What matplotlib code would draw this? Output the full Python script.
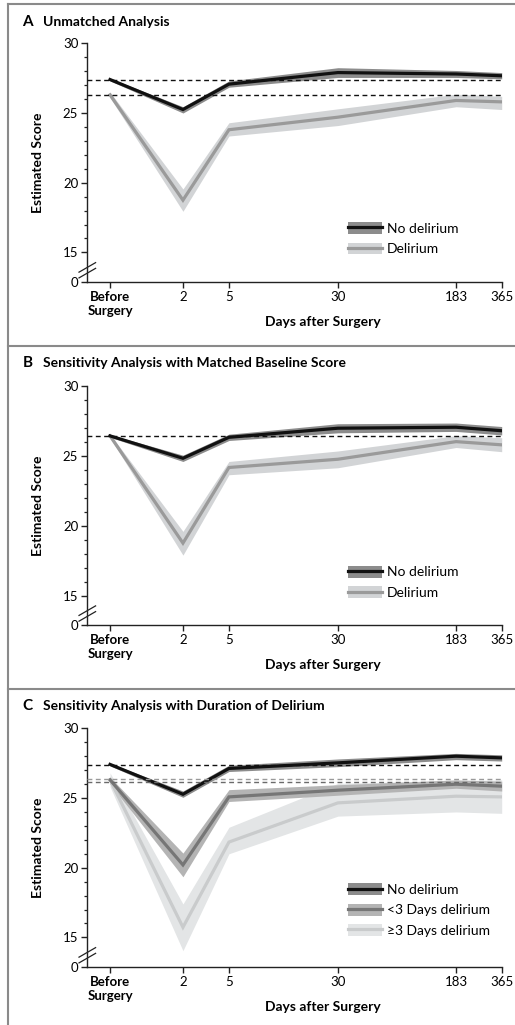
import numpy as np
import matplotlib
matplotlib.use("Agg")
import matplotlib.pyplot as plt
from matplotlib.lines import Line2D
from matplotlib.patches import Patch

plt.rcParams['font.family'] = ['Lato', 'DejaVu Sans']

# ---------------- data ----------------
days = [0, 2, 5, 30, 183, 365]
xtick_labels = ['Before\nSurgery', '2', '5', '30', '183', '365']

A_no = [27.4, 25.25, 27.07, 27.9, 27.8, 27.67]
A_no_lo = [27.3, 25.0, 26.85, 27.55, 27.55, 27.45]
A_no_hi = [27.5, 25.45, 27.3, 28.25, 28.05, 27.9]
A_del = [26.3, 18.75, 23.8, 24.7, 25.9, 25.8]
A_del_lo = [26.1, 17.95, 23.35, 24.1, 25.45, 25.25]
A_del_hi = [26.5, 19.55, 24.3, 25.3, 26.35, 26.2]
A_base = [27.4, 26.3]

B_no = [26.43, 24.83, 26.33, 26.98, 27.05, 26.8]
B_no_lo = [26.33, 24.6, 26.1, 26.65, 26.75, 26.5]
B_no_hi = [26.53, 25.05, 26.55, 27.3, 27.35, 27.1]
B_del = [26.43, 18.76, 24.17, 24.76, 26.02, 25.79]
B_del_lo = [26.3, 17.9, 23.65, 24.15, 25.6, 25.3]
B_del_hi = [26.55, 19.6, 24.6, 25.35, 26.45, 26.3]
B_base = [26.43]

C_no = [27.41, 25.27, 27.12, 27.52, 28.0, 27.88]
C_no_lo = [27.3, 25.05, 26.9, 27.25, 27.75, 27.65]
C_no_hi = [27.5, 25.5, 27.35, 27.8, 28.2, 28.1]
C_short = [26.3, 20.2, 25.08, 25.56, 25.99, 25.85]
C_short_lo = [26.0, 19.35, 24.75, 25.2, 25.7, 25.5]
C_short_hi = [26.5, 21.05, 25.6, 25.95, 26.3, 26.2]
C_long = [26.3, 15.73, 21.84, 24.65, 25.13, 25.08]
C_long_lo = [25.8, 14.05, 21.0, 23.7, 24.0, 23.9]
C_long_hi = [26.8, 17.4, 22.9, 26.05, 26.25, 26.3]
C_base = [27.4, 26.37, 26.15]

ytick_vals = [12.9, 15, 20, 25, 30]
ytick_labels = ['0', '15', '20', '25', '30']

# ---------------- style ----------------
BLACK = '#111111'
DARK_BAND = '#8c8c8c'
DEL_LINE = '#9a9a9a'
DEL_BAND = '#d2d4d6'
SHORT_LINE = '#767676'
SHORT_BAND = '#b4b4b4'
LONG_LINE = '#c9cbcc'
LONG_BAND = '#e3e5e6'
FRAME = '#8a8a8a'

W, H = 515, 1025
fig = plt.figure(figsize=(W / 100, H / 100), dpi=100)

def px_axes(left, right, top, bottom):
    return fig.add_axes([left / W, 1 - bottom / H, (right - left) / W, (bottom - top) / H])

def setup(ax):
    ax.set_xscale('function', functions=(np.log1p, np.expm1))
    ax.set_xlim(np.expm1(-0.343), 365)
    ax.set_ylim(12.9, 30)
    for s in ['top', 'right']:
        ax.spines[s].set_visible(False)
    for s in ['left', 'bottom']:
        ax.spines[s].set_linewidth(1.0)
        ax.spines[s].set_color('#222222')
    ax.set_xticks(days)
    ax.set_xticklabels(xtick_labels)
    ax.get_xticklabels()[0].set_fontweight('bold')
    ax.xaxis.set_minor_locator(matplotlib.ticker.NullLocator())
    ax.set_yticks(ytick_vals)
    ax.set_yticklabels(ytick_labels)
    ax.set_yticks([v for v in range(16, 30) if v % 5 != 0], minor=True)
    ax.tick_params(axis='both', which='major', direction='out', length=4.5, width=1.0,
                   labelsize=9.5, color='#222222', pad=2)
    ax.tick_params(axis='y', which='minor', direction='out', length=2.5, width=0.9, color='#222222')
    ax.text(-0.119, 0.5, 'Estimated Score', transform=ax.transAxes, rotation=90,
            ha='center', va='center', fontsize=10, fontweight='bold')
    ax.text(0.569, -0.168, 'Days after Surgery', transform=ax.transAxes,
            ha='center', va='center', fontsize=10, fontweight='bold')
    # axis break marks
    for dy in (-0.012, 0.012):
        ax.plot([-0.02, 0.02], [0.048 + dy - 0.02, 0.048 + dy + 0.02], transform=ax.transAxes,
                color='#222222', lw=0.9, clip_on=False, zorder=6)

def series(ax, y, lo, hi, lc, bc, lw=2.3):
    ax.fill_between(days, lo, hi, color=bc, lw=0, zorder=2)
    ax.plot(days, y, color=lc, lw=lw, solid_joinstyle='miter', zorder=3)

def legend(ax, items, y_anchor):
    handles = [(Patch(facecolor=bc, edgecolor='none'), Line2D([], [], color=lc, lw=2.3))
               for (_, lc, bc) in items]
    labels = [t for (t, _, _) in items]
    ax.legend(handles, labels, loc='upper left', bbox_to_anchor=(0.63, y_anchor),
              frameon=False, fontsize=10, borderpad=0, borderaxespad=0,
              handlelength=2.4, handleheight=0.95, handletextpad=0.35, labelspacing=0.55)

def title(y, letter, text):
    fig.text(22.5 / W, 1 - y / H, letter, fontsize=11, fontweight='bold', va='center', ha='left')
    fig.text(43 / W, 1 - y / H, text, fontsize=10, fontweight='bold', va='center', ha='left')

# ---------------- Panel A ----------------
axA = px_axes(87.3, 501.7, 43.3, 281.7)
setup(axA)
for b in A_base:
    axA.axhline(b, color=BLACK, lw=1.0, ls=(0, (3.5, 2.5)), zorder=5)
series(axA, A_del, A_del_lo, A_del_hi, DEL_LINE, DEL_BAND)
series(axA, A_no, A_no_lo, A_no_hi, BLACK, DARK_BAND)
legend(axA, [('No delirium', BLACK, DARK_BAND), ('Delirium', DEL_LINE, DEL_BAND)], 0.25)
title(21.7, 'A', 'Unmatched Analysis')

# ---------------- Panel B ----------------
axB = px_axes(87.3, 501.7, 386, 625)
setup(axB)
for b in B_base:
    axB.axhline(b, color=BLACK, lw=1.0, ls=(0, (3.5, 2.5)), zorder=5)
series(axB, B_del, B_del_lo, B_del_hi, DEL_LINE, DEL_BAND)
series(axB, B_no, B_no_lo, B_no_hi, BLACK, DARK_BAND)
legend(axB, [('No delirium', BLACK, DARK_BAND), ('Delirium', DEL_LINE, DEL_BAND)], 0.248)
title(363.3, 'B', 'Sensitivity Analysis with Matched Baseline Score')

# ---------------- Panel C ----------------
axC = px_axes(87.3, 501.7, 728.3, 966.7)
setup(axC)
base_colors = [BLACK, '#9a9a9a', '#6a6a6a']
for b, c in zip(C_base, base_colors):
    axC.axhline(b, color=c, lw=1.0, ls=(0, (3.5, 2.5)), zorder=5)
series(axC, C_long, C_long_lo, C_long_hi, LONG_LINE, LONG_BAND)
series(axC, C_short, C_short_lo, C_short_hi, SHORT_LINE, SHORT_BAND)
series(axC, C_no, C_no_lo, C_no_hi, BLACK, DARK_BAND)
legend(axC, [('No delirium', BLACK, DARK_BAND), ('<3 Days delirium', SHORT_LINE, SHORT_BAND),
             ('\u22653 Days delirium', LONG_LINE, LONG_BAND)], 0.35)
title(705.7, 'C', 'Sensitivity Analysis with Duration of Delirium')

# ---------------- frame lines ----------------
def fline(x0, y0, x1, y1):
    fig.add_artist(Line2D([x0 / W, x1 / W], [1 - y0 / H, 1 - y1 / H], color=FRAME, lw=1.5))

fline(8, 4, W, 4)
fline(8, 4, 8, H)
fline(8, 346, W, 346)
fline(8, 689, W, 689)

fig.savefig('out.png', dpi=100)
